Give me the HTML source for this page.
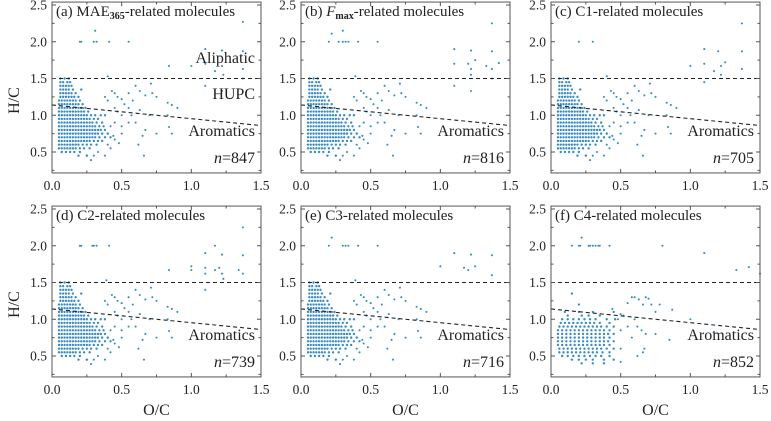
<!DOCTYPE html>
<html><head><meta charset="utf-8">
<style>
html,body{margin:0;padding:0;background:#fff;}
svg{display:block;font-family:"Liberation Serif",serif;}
</style></head>
<body>
<svg id="chart" width="771" height="421" viewBox="0 0 771 421" xmlns="http://www.w3.org/2000/svg"></svg>
<script>
// ---- data ----
const panelTitles = ["(a)", "(b)", "(c)", "(d)", "(e)", "(f)"];
const panelCounts = [847, 816, 705, 739, 716, 852];
const xTicks = [0.0, 0.5, 1.0, 1.5];
const xTickLabels = ["0.0", "0.5", "1.0", "1.5"];
const yTicks = [0.5, 1.0, 1.5, 2.0, 2.5];
const yTickLabels = ["0.5", "1.0", "1.5", "2.0", "2.5"];
const aliphaticLine = [1.5, 1.5];   // H/C at O/C=0 and 1.5
const aromaticLine = [1.14, 0.86];  // H/C at O/C=0 and 1.5

// dense cluster shared by panels a-e: [H/C, [O/C values]]
const coreAE = [
 [1.50,[.06,.09,.12]],
 [1.45,[.06,.08,.11,.13]],
 [1.40,[.06,.08,.10,.12,.14]],
 [1.35,[.06,.08,.10,.12,.15,.21]],
 [1.30,[.06,.08,.10,.12,.14,.17]],
 [1.25,[.06,.08,.10,.12,.14,.16,.19]],
 [1.20,[.05,.07,.09,.11,.13,.15,.17,.20]],
 [1.15,[.05,.07,.09,.11,.13,.15,.17,.19,.22]],
 [1.10,[.05,.07,.09,.11,.13,.15,.17,.19,.21,.24]],
 [1.05,[.05,.07,.09,.11,.13,.15,.17,.19,.21,.23,.26]],
 [1.00,[.05,.07,.09,.11,.13,.15,.17,.19,.21,.23,.25,.28,.31,.35,.38]],
 [0.95,[.05,.07,.09,.11,.13,.15,.17,.19,.21,.23,.25,.27,.30,.33]],
 [0.90,[.05,.07,.09,.11,.13,.15,.17,.19,.21,.23,.25,.27,.29,.32,.36]],
 [0.85,[.05,.07,.09,.11,.13,.15,.17,.19,.21,.23,.25,.27,.29,.31,.34,.37]],
 [0.80,[.05,.07,.09,.11,.13,.15,.17,.19,.21,.23,.25,.27,.29,.31,.33,.35,.38]],
 [0.75,[.05,.07,.09,.11,.13,.15,.17,.19,.21,.23,.25,.27,.29,.31,.33,.36,.40]],
 [0.70,[.05,.07,.09,.11,.13,.15,.17,.19,.21,.23,.25,.27,.29,.31,.34,.38,.42]],
 [0.65,[.05,.07,.09,.11,.13,.15,.17,.19,.21,.23,.25,.27,.30,.33,.36]],
 [0.60,[.05,.07,.09,.11,.13,.15,.17,.19,.22,.25,.28,.32]],
 [0.55,[.05,.07,.09,.11,.13,.15,.17,.20,.23,.27]],
 [0.50,[.07,.10,.13,.16,.20]],
 [0.45,[.19,.25]]
];
// mid-range scattered points shared by a-e: [O/C, H/C]
const midAE = [[0.38,1.25],[0.43,1.33],[0.45,1.3],[0.4,1.2],[0.47,1.25],[0.5,1.22],[0.55,1.3],[0.6,1.4],[0.63,1.33],[0.67,1.27],[0.71,1.43],[0.72,1.3],[0.75,1.25],[0.83,1.17],[0.86,1.14],[0.9,1.1],[0.83,1.0],[0.84,0.84],[0.86,0.75],[0.75,0.75],[0.67,0.8],[0.6,0.9],[0.55,0.9],[0.57,1.0],[0.5,1.0],[0.5,0.85],[0.5,0.75],[0.45,0.67],[0.4,0.6],[0.42,0.55],[0.38,0.45],[0.33,0.5],[0.3,0.45],[0.28,0.39],[0.25,0.45],[0.35,0.8],[0.4,0.75],[0.45,0.9],[0.62,0.6],[0.65,0.72],[0.7,1.0],[0.63,1.07],[0.55,1.1],[0.45,1.1],[0.47,1.05],[0.52,1.15],[0.58,1.2],[0.42,0.85],[0.44,0.72],[0.48,0.62],[0.66,0.45]];
// panel-specific outliers [O/C, H/C]
const outA = [[0.2,2.0],[0.21,2.0],[0.3,2.0],[0.32,2.0],[0.41,2.0],[0.55,2.0],[0.31,2.15],[0.84,1.67],[1.0,1.67],[1.1,1.9],[1.1,1.7],[1.22,1.88],[1.22,1.67],[1.23,1.55],[1.37,2.27],[1.37,1.87],[1.37,1.63],[1.37,1.5],[1.17,1.6],[1.1,1.4],[1.22,1.33],[0.4,1.53]];
const outB = [[0.2,2.0],[0.22,2.11],[0.3,2.15],[0.27,2.0],[0.3,2.0],[0.32,2.0],[0.34,2.0],[0.41,2.0],[0.55,2.0],[0.39,1.53],[1.1,1.9],[1.1,1.7],[1.22,1.88],[1.2,1.7],[1.22,1.63],[1.25,1.75],[1.33,1.67],[1.37,1.63],[1.37,2.25],[1.37,1.87],[1.42,1.71],[1.37,1.5],[1.1,1.4],[1.22,1.33],[1.22,1.55]];
const outC = [[0.2,2.0],[0.3,2.0],[1.0,1.67],[1.1,1.9],[1.1,1.7],[1.17,1.6],[1.2,1.87],[1.22,1.67],[1.25,1.72],[1.37,2.25],[1.37,1.87],[1.37,1.63],[1.1,1.45],[1.22,1.55],[0.4,1.53]];
const outD = [[0.2,2.0],[0.21,2.0],[0.29,2.0],[0.3,2.0],[0.32,2.0],[0.41,2.0],[0.84,1.67],[1.0,1.72],[1.0,1.67],[1.1,1.9],[1.1,1.7],[1.1,1.62],[1.17,2.0],[1.17,1.67],[1.2,1.7],[1.22,1.88],[1.22,1.62],[1.23,1.55],[1.34,1.67],[1.37,2.25],[1.37,1.87],[1.37,1.62],[1.1,1.4],[0.39,1.53]];
const outE = [[0.2,2.0],[0.22,2.11],[0.3,2.0],[0.32,2.0],[0.34,2.0],[0.41,2.0],[0.55,2.0],[1.1,1.9],[1.17,1.7],[1.2,1.67],[1.22,1.88],[1.25,1.72],[1.37,1.87],[1.37,1.6],[1.0,1.72],[0.39,1.53]];
// panel f
const coreF = [
 [1.35,[.15]],
 [1.20,[.20]],
 [1.10,[.10,.20,.30,.45]],
 [1.05,[.12,.22,.27,.35]],
 [1.00,[.08,.12,.16,.20,.24,.28,.32,.40,.46]],
 [0.95,[.07,.10,.13,.16,.19,.22,.25,.28,.31,.35,.42]],
 [0.90,[.06,.09,.12,.15,.18,.21,.24,.27,.30,.33,.36,.40,.45]],
 [0.85,[.05,.08,.11,.14,.17,.20,.23,.26,.29,.32,.35,.38,.42]],
 [0.80,[.05,.08,.11,.14,.17,.20,.23,.26,.29,.32,.35,.38,.41,.45]],
 [0.75,[.05,.08,.11,.14,.17,.20,.23,.26,.29,.32,.35,.38,.42]],
 [0.70,[.05,.08,.11,.14,.17,.20,.23,.26,.29,.32,.35,.38,.41,.45]],
 [0.65,[.05,.08,.11,.14,.17,.20,.23,.26,.29,.32,.35,.38,.42]],
 [0.60,[.06,.09,.12,.15,.18,.21,.24,.27,.30,.33,.36,.40,.45]],
 [0.55,[.06,.09,.12,.15,.18,.21,.24,.27,.30,.33,.37,.42]],
 [0.50,[.08,.12,.16,.20,.24,.28,.32,.36,.42]],
 [0.45,[.15,.20,.25,.30,.38,.45]],
 [0.40,[.22,.30,.38]]
];
const midF = [[0.5,1.07],[0.52,1.05],[0.55,1.22],[0.58,1.3],[0.6,1.3],[0.63,1.27],[0.66,1.2],[0.68,1.3],[0.7,1.28],[0.72,1.2],[0.75,1.1],[0.78,1.2],[0.87,1.13],[0.6,1.0],[0.62,0.9],[0.65,0.85],[0.68,0.8],[0.75,0.8],[0.67,0.6],[0.62,0.5],[0.66,0.55],[0.58,0.75],[0.55,0.9],[0.5,0.85],[0.5,0.42],[0.5,0.6],[0.85,0.72],[1.0,1.0],[1.17,0.83],[0.44,1.14],[0.48,1.0]];
const outF = [[0.15,2.0],[0.2,2.0],[0.21,2.0],[0.22,2.11],[0.27,2.0],[0.28,2.0],[0.3,2.0],[0.32,2.0],[0.34,2.0],[0.35,2.0],[0.42,2.0],[0.8,2.0],[1.1,1.9],[1.33,1.67],[1.42,1.71],[1.5,1.62]];

const panelCores = [coreAE, coreAE, coreAE, coreAE, coreAE, coreF];
const panelMids = [midAE, midAE, midAE, midAE, midAE, midF];
const panelOuts = [outA, outB, outC, outD, outE, outF];

// ---- layout ----
const NS = "http://www.w3.org/2000/svg";
const svg = document.getElementById("chart");
const colLeft = [52, 301, 551];
const rowBase = [152, 356]; // pixel y of H/C = 0.5
const PW = 209, XS = PW / 1.5, YS = 73.5;
const DOT = "#3a8cc6";

function el(tag, attrs, parent) {
  const e = document.createElementNS(NS, tag);
  for (const k in attrs) e.setAttribute(k, attrs[k]);
  (parent || svg).appendChild(e);
  return e;
}

for (let p = 0; p < 6; p++) {
  const col = p % 3, row = Math.floor(p / 3);
  const L = colLeft[col], B = rowBase[row];
  const xPix = v => L + v * XS;
  const yPix = v => B - (v - 0.5) * YS;
  const top = yPix(2.54), bot = yPix(0.215);
  const g = el("g", {});
  
  

  // points
  const pts = el("g", {fill: DOT}, g);
  
  
  panelCores[p].forEach(r => r[1].forEach(o => {
    const c = el("circle", {cx: xPix(o), cy: yPix(r[0]), r: 1.2}, pts);
    
    
  }));
  panelMids[p].concat(panelOuts[p]).forEach(d => {
    const c = el("circle", {cx: xPix(d[0]), cy: yPix(d[1]), r: 1.05}, pts);
    
    
  });

  // dashed lines
  const l1 = el("line", {x1: xPix(0), y1: yPix(aliphaticLine[0]), x2: xPix(1.5), y2: yPix(aliphaticLine[1]), stroke: "#222", "stroke-width": 1.1, "stroke-dasharray": "4,3"}, g);
  
  
  const l2 = el("line", {x1: xPix(0), y1: yPix(aromaticLine[0]), x2: xPix(1.5), y2: yPix(aromaticLine[1]), stroke: "#222", "stroke-width": 1.1, "stroke-dasharray": "4,3"}, g);
  
  

  // frame
  const fr = el("rect", {x: L, y: top, width: PW, height: bot - top, fill: "none", stroke: "#555", "stroke-width": 1}, g);
  
  

  // ticks
  for (let v = 0; v <= 1.5001; v += 0.25) {
    const len = (Math.abs(v * 2 - Math.round(v * 2)) < 1e-6) ? 4 : 2.5;
    el("line", {x1: xPix(v), y1: bot, x2: xPix(v), y2: bot - len, stroke: "#555"}, g);
    el("line", {x1: xPix(v), y1: top, x2: xPix(v), y2: top + len, stroke: "#555"}, g);
  }
  for (let v = 0.25; v <= 2.5001; v += 0.25) {
    const len = (Math.abs(v * 2 - Math.round(v * 2)) < 1e-6) ? 4 : 2.5;
    el("line", {x1: L, y1: yPix(v), x2: L + len, y2: yPix(v), stroke: "#555"}, g);
    el("line", {x1: L + PW, y1: yPix(v), x2: L + PW - len, y2: yPix(v), stroke: "#555"}, g);
  }
  xTicks.forEach((v, i) => {
    const t = el("text", {x: xPix(v), y: bot + 17, "text-anchor": "middle", "font-size": 13.5, fill: "#222"}, g);
    t.textContent = xTickLabels[i];
    
    
  });
  yTicks.forEach((v, i) => {
    const t = el("text", {x: L - 5, y: yPix(v) + 4.5, "text-anchor": "end", "font-size": 13.5, fill: "#222"}, g);
    t.textContent = yTickLabels[i];
    
    
  });

  // title
  const title = el("text", {x: L + 4, y: top + 14, "font-size": 15, fill: "#222"}, g);
  
  
  if (p === 0) {
    title.innerHTML = '(a) MAE<tspan font-size="10" font-weight="bold" dy="3">365</tspan><tspan dy="-3">-related molecules</tspan>';
  } else if (p === 1) {
    title.innerHTML = '(b) <tspan font-style="italic">F</tspan><tspan font-size="10" font-weight="bold" dy="3">max</tspan><tspan dy="-3">-related molecules</tspan>';
  } else {
    title.textContent = panelTitles[p] + " C" + (p - 1) + "-related molecules";
  }

  // region labels
  if (p === 0) {
    const a1 = el("text", {x: L + PW - 6, y: yPix(1.71), "text-anchor": "end", "font-size": 16, fill: "#222"}, g);
    a1.textContent = "Aliphatic";
    
    
    const a2 = el("text", {x: L + PW - 6, y: yPix(1.22), "text-anchor": "end", "font-size": 16, fill: "#222"}, g);
    a2.textContent = "HUPC";
    
    
  }
  const ar = el("text", {x: L + PW - 6, y: yPix(0.72), "text-anchor": "end", "font-size": 16, fill: "#222"}, g);
  ar.textContent = "Aromatics";
  
  
  const nt = el("text", {x: L + PW - 6, y: yPix(0.35), "text-anchor": "end", "font-size": 16, fill: "#222"}, g);
  nt.innerHTML = '<tspan font-style="italic">n</tspan>=' + panelCounts[p];
  
  

  if (col === 0) {
    const yl = el("text", {x: 0, y: 0, transform: "translate(19," + yPix(1.2) + ") rotate(-90)", "text-anchor": "middle", "font-size": 16, fill: "#222"}, g);
    yl.textContent = "H/C";
    
    
  }
  if (row === 1) {
    const xl = el("text", {x: L + PW / 2, y: 415, "text-anchor": "middle", "font-size": 16, fill: "#222"}, g);
    xl.textContent = "O/C";
    
    
  }
}
</script>
</body></html>
